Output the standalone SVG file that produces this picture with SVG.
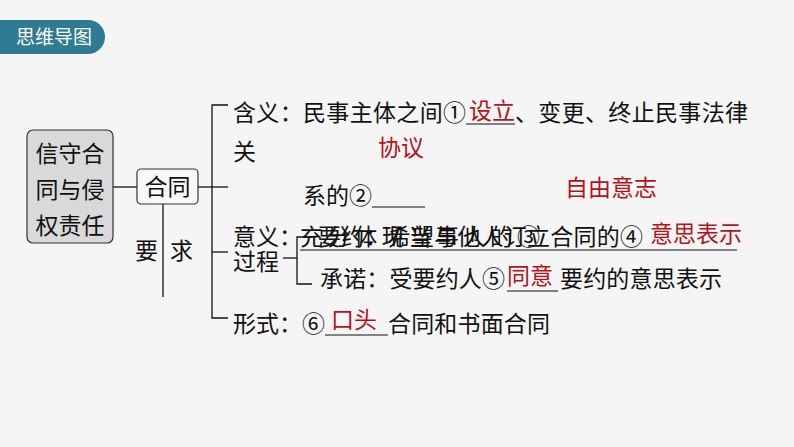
<svg xmlns="http://www.w3.org/2000/svg" width="794" height="447" viewBox="0 0 794 447">
<style>
.t{font-family:"Noto Sans CJK SC","Noto Sans",sans-serif;font-size:23px;fill:#111}
.r{font-family:"Noto Sans CJK SC","Noto Sans",sans-serif;font-size:23px;fill:#b5121b}
.ln{stroke:#111;stroke-width:1.3;fill:none}
.ul{stroke:#111;stroke-width:1.2}
</style>
<rect width="794" height="447" fill="#f5f5f5"/>
<g id="badge">
<path d="M0 20 H88 A17 17 0 0 1 88 54 H0 Z" fill="#2e7b93"/>
<text x="16" y="44" style="font-family:'Noto Sans CJK SC',sans-serif;font-size:19px;fill:#fff">思维导图</text>
</g>
<g id="connectors">
<line class="ln" x1="113" y1="187" x2="137" y2="187"/>
<line class="ln" x1="198" y1="187" x2="228" y2="187"/>
<line class="ln" x1="163" y1="204" x2="163" y2="297"/>
<path class="ln" d="M228 105 H212 V318 H228"/>
<line class="ln" x1="212" y1="252" x2="228" y2="252"/>
<line class="ln" x1="283" y1="258" x2="297" y2="258" stroke="#777"/>
<path class="ln" d="M312 237 H297 V284 H312"/>
</g>
<g id="root">
<rect x="27" y="130" width="86" height="113" rx="6" fill="#d9d9d9" stroke="#333" stroke-width="1.2"/>
<text class="t" x="70" y="162" text-anchor="middle">信守合</text>
<text class="t" x="70" y="198" text-anchor="middle">同与侵</text>
<text class="t" x="70" y="234" text-anchor="middle">权责任</text>
</g>
<g id="hetong">
<rect x="137" y="169" width="61" height="35" rx="4" fill="#f8f8f8" stroke="#333" stroke-width="1.2"/>
<text class="t" x="167.5" y="195" text-anchor="middle">合同</text>
</g>
<g id="yaoqiu">
<text class="t" x="135" y="259">要</text>
<text class="t" x="170" y="259">求</text>
</g>
<g id="hanyi">
<text class="t" x="233" y="121" textLength="233" lengthAdjust="spacing">含义：民事主体之间①</text>
<text class="r" x="469" y="119">设立</text>
<line class="ul" x1="466" y1="124" x2="515" y2="124"/>
<text class="t" x="515" y="121" textLength="233" lengthAdjust="spacing">、变更、终止民事法律</text>
<text class="t" x="233" y="160">关</text>
<text class="r" x="378" y="156">协议</text>
<text class="t" x="303" y="204" textLength="69" lengthAdjust="spacing">系的②</text>
<line class="ul" x1="372" y1="207" x2="425" y2="207"/>
<text class="r" x="565" y="196">自由意志</text>
</g>
<g id="yiyi">
<text class="t" x="233" y="245">意义：</text>
<text class="t" x="233" y="270">过程</text>
<text class="t" x="300" y="245" textLength="240" lengthAdjust="spacing">充分体现当事人的③</text>
<text class="t" x="318" y="245" textLength="325" lengthAdjust="spacing">要约：希望与他人订立合同的④</text>
<line class="ul" x1="300" y1="250" x2="737" y2="250"/>
<text class="r" x="650" y="242">意思表示</text>
</g>
<g id="chengnuo">
<text class="t" x="320" y="287" textLength="185" lengthAdjust="spacing">承诺：受要约人⑤</text>
<text class="r" x="507" y="284">同意</text>
<line class="ul" x1="507" y1="291" x2="558" y2="291"/>
<text class="t" x="560" y="287" textLength="162" lengthAdjust="spacing">要约的意思表示</text>
</g>
<g id="xingshi">
<text class="t" x="233" y="332" textLength="92" lengthAdjust="spacing">形式：⑥</text>
<text class="r" x="331" y="328">口头</text>
<line class="ul" x1="325" y1="335" x2="388" y2="335"/>
<text class="t" x="388" y="332" textLength="162" lengthAdjust="spacing">合同和书面合同</text>
</g>
</svg>
